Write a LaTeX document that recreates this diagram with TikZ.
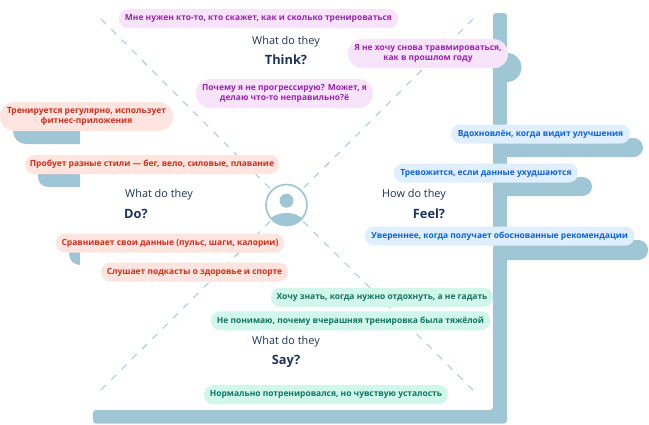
\documentclass[tikz,border=0pt]{standalone}
\usepackage{fontspec}
\setmainfont{Open Sans}
\usepackage{xcolor}
\usetikzlibrary{positioning,calc}
\definecolor{BarBlue}{RGB}{159,198,212}
\definecolor{TitleNavy}{RGB}{30,52,90}
\definecolor{ThinkBg}{RGB}{247,228,250}
\definecolor{ThinkFg}{RGB}{150,40,175}
\definecolor{DoBg}{RGB}{255,228,224}
\definecolor{DoFg}{RGB}{205,50,30}
\definecolor{FeelBg}{RGB}{224,239,254}
\definecolor{FeelFg}{RGB}{15,100,220}
\definecolor{SayBg}{RGB}{209,246,234}
\definecolor{SayFg}{RGB}{15,120,100}

\begin{document}
\begin{tikzpicture}[x=1pt,y=-1pt]
	\tikzset{
		bar/.style={fill=BarBlue, draw=none},
		cross/.style={draw=BarBlue, line width=0.9pt, dash pattern=on 7pt off 7.5pt},
		bubble/.style={rounded corners=9pt, align=center, inner sep=0pt, font=\fontsize{8.45}{10.2}\selectfont\bfseries, minimum height=19pt},
		two/.style={rounded corners=14pt, minimum height=29pt},
		think/.style={bubble, fill=ThinkBg, text=ThinkFg},
		doing/.style={bubble, fill=DoBg, text=DoFg},
		feel/.style={bubble, fill=FeelBg, text=FeelFg},
		say/.style={bubble, fill=SayBg, text=SayFg},
		small/.style={font=\fontsize{10.9}{12}\selectfont, text=TitleNavy, inner sep=0pt},
		big/.style={font=\fontsize{12.8}{14}\selectfont\bfseries, text=TitleNavy, inner sep=0pt}
	}
	\useasboundingbox (0,0) rectangle (649,424);

	% frame with side tabs
	\fill[bar] (507,67.5) circle (14.5);
	\fill[bar, rounded corners=9.5pt] (495,138) rectangle (643,157);
	\fill[bar, rounded corners=9.5pt] (495,177) rectangle (592,196);
	\fill[bar, rounded corners=9.5pt] (495,240) rectangle (648,260);
	\fill[bar, rounded corners=3pt] (493,13) -- (507,13) -- (507,423.5) -- (93,423.5) -- (93,410) -- (493,410) -- cycle;
	\fill[bar] (80,118) -- (13,118) -- (13,131) .. controls (13,138.2) and (18.8,144) .. (26,144) -- (80,144) -- cycle;
	\fill[bar] (80,160) -- (38,160) -- (38,177) .. controls (38,182.5) and (42.5,187) .. (48,187) -- (80,187) -- cycle;
	\fill[bar] (80,240) -- (69,240) -- (69,254) .. controls (69,260) and (74,265) .. (80,265) -- cycle;

	% dashed cross
	\coordinate (tl) at (101,19);
	\coordinate (tr) at (473,19);
	\coordinate (bl) at (101,390);
	\coordinate (br) at (473,390);
	\node[circle, draw=BarBlue, line width=1.7pt, fill=white, minimum size=41pt, inner sep=0pt] (person) at (286.5,205) {};
	\draw[cross] (tl) -- (person);
	\draw[cross] (tr) -- (person);
	\draw[cross] (bl) -- (person);
	\draw[cross] (br) -- (person);
	\begin{scope}
		\clip (286.5,205) circle (20);
		\fill[BarBlue] (286.5,200.7) circle (7);
		\fill[BarBlue] (286.5,230) ellipse (22 and 17);
	\end{scope}

	% titles
	\node[small] (thinkA) at (286,41.5) {What do they};
	\node[big] (thinkB) at (286,60) {Think?};
	\node[small] (doA) at (159,195) {What do they};
	\node[big] (doB) at (136,213.5) {Do?};
	\node[small] (feelA) at (414,195) {How do they};
	\node[big] (feelB) at (429,213.5) {Feel?};
	\node[small] (sayA) at (286,342) {What do they};
	\node[big] (sayB) at (286,361) {Say?};

	% bubbles
	\node[think, minimum width=279pt] (t1) at (258.5,18.7) {Мне нужен кто-то, кто скажет, как и сколько тренироваться};
	\node[think, two, minimum width=160pt] (t2) at (428,53.7) {Я не хочу снова травмироваться,\\как в прошлом году};
	\node[think, two, minimum width=177pt] (t3) at (284.5,93.6) {Почему я не прогрессирую? Может, я\\делаю что-то неправильно?ё};
	\node[doing, two, minimum width=173pt] (d1) at (86.5,116.5) {Тренируется регулярно, использует\\фитнес-приложения};
	\node[doing, minimum width=254pt] (d2) at (152,164.5) {Пробует разные стили — бег, вело, силовые, плавание};
	\node[doing, minimum width=228pt] (d3) at (170,243) {Сравнивает свои данные (пульс, шаги, калории)};
	\node[doing, minimum width=187pt] (d4) at (194.5,272) {Слушает подкасты о здоровье и спорте};
	\node[feel, minimum width=179pt] (f1) at (540.5,134) {Вдохновлён, когда видит улучшения};
	\node[feel, minimum width=184pt] (f2) at (486,173) {Тревожится, если данные ухудшаются};
	\node[feel, minimum width=269.5pt] (f3) at (499.7,236) {Увереннее, когда получает обоснованные рекомендации};
	\node[say, minimum width=222pt] (s1) at (382,297.3) {Хочу знать, когда нужно отдохнуть, а не гадать};
	\node[say, minimum width=279pt] (s2) at (350.5,320.8) {Не понимаю, почему вчерашняя тренировка была тяжёлой};
	\node[say, minimum width=244pt] (s3) at (326,394.7) {Нормально потренировался, но чувствую усталость};
\end{tikzpicture}
\end{document}
